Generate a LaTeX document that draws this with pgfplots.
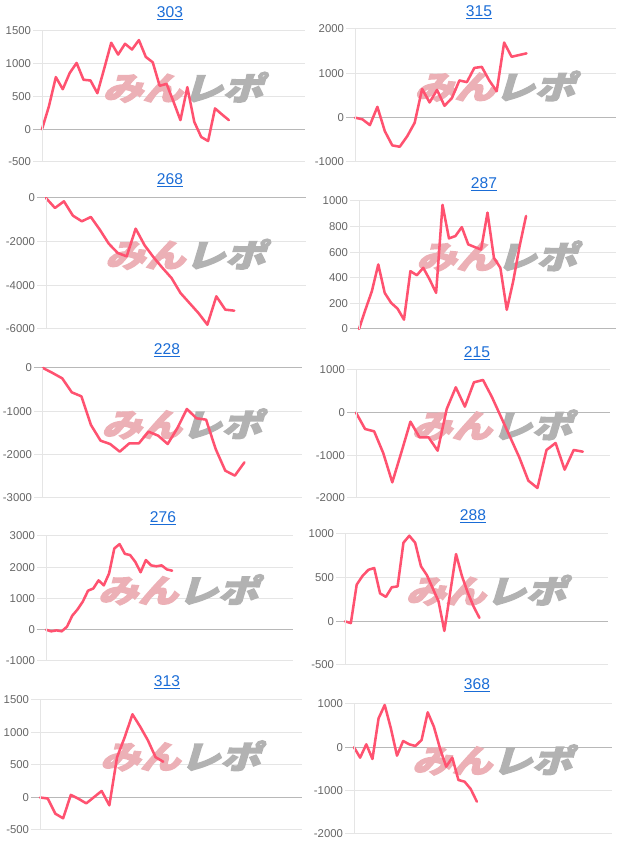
\documentclass[border=0pt]{standalone}
\usepackage{pgfplots}
\pgfplotsset{compat=1.18}
\usepackage{fontspec}
\setmainfont{Liberation Sans}
\newfontfamily\jp{Noto Sans CJK JP}[FakeBold=4]
\definecolor{lineC}{RGB}{255,82,112}
\definecolor{titleC}{RGB}{26,108,214}
\definecolor{tickC}{RGB}{102,102,102}
\definecolor{wmPink}{RGB}{236,176,182}
\definecolor{wmGray}{RGB}{178,178,178}
\pgfplotsset{
  panel/.style={
    scale only axis, anchor=south west,
    xmin=0, xtick=\empty,
    axis line style={draw=none},
    ymajorgrids, major grid style={black!10, line width=0.75pt},
    ytick pos=left,
    ytick style={black!10, line width=0.75pt},
    tick align=outside, major tick length=6.75pt,
    scaled y ticks=false,
    yticklabel style={font=\fontsize{8.5}{10}\selectfont, text=tickC, xshift=2pt, /pgf/number format/1000 sep={}, /pgf/number format/assume math mode=true},
    clip=false,
    extra y ticks={0}, extra y tick labels={},
    extra y tick style={major grid style={black!28, line width=0.75pt}, ytick style={black!28, line width=0.75pt}},
    extra description/.code={\draw[black!10, line width=0.75pt] (0,0) -- (0,1);},
  },
  pline/.style={color=lineC, line width=1.9pt, line join=round, line cap=round, no markers},
}
\tikzset{wmnode/.style={xslant=0.3, xscale=1.25, inner sep=0pt}}
\newcommand{\wm}{\node[wmnode] at (rel axis cs:0.55,0.57) {\jp\bfseries\fontsize{24}{24}\selectfont\textcolor{wmPink}{みん}\textcolor{wmGray}{レポ}};}
\newcommand{\ttl}[3]{\node[font=\fontsize{11.7}{14}\selectfont, text=titleC, inner sep=0pt] at (#1,#2) {\underline{#3}};}
\begin{document}
\begin{tikzpicture}[x=0.75pt, y=0.75pt]
\useasboundingbox (0,0) rectangle (623,841);
% 303
\begin{axis}[panel, at={(42*0.75pt,679*0.75pt)}, width=197.25pt, height=98.25pt, xmax=38, ymin=-500, ymax=1500, ytick={-500,0,500,1000,1500}]
\wm
\addplot[pline] table[row sep=\\, header=false, x expr=\coordindex, y index=0] {0\\350\\796\\611\\858\\1012\\755\\745\\550\\930\\1320\\1140\\1305\\1217\\1361\\1104\\1022\\663\\693\\421\\139\\642\\113\\-118\\-180\\318\\226\\139\\};
\end{axis}
% 315
\begin{axis}[panel, at={(355*0.75pt,679*0.75pt)}, width=195.75pt, height=99.75pt, xmax=35, ymin=-1000, ymax=2000, ytick={-1000,0,1000,2000}]
\wm
\addplot[pline] table[row sep=\\, header=false, x expr=\coordindex, y index=0] {0\\-38\\-168\\244\\-305\\-626\\-656\\-420\\-115\\649\\343\\626\\267\\443\\839\\801\\1122\\1145\\839\\595\\1694\\1373\\1412\\1450\\};
\end{axis}
% 268
\begin{axis}[panel, at={(46*0.75pt,512*0.75pt)}, width=195pt, height=98.25pt, xmax=29, ymin=-6000, ymax=0, ytick={-6000,-4000,-2000,0}]
\wm
\addplot[pline] table[row sep=\\, header=false, x expr=\coordindex, y index=0] {0\\-458\\-153\\-809\\-1069\\-870\\-1450\\-2092\\-2520\\-2672\\-1405\\-2168\\-2718\\-3207\\-3665\\-4352\\-4810\\-5268\\-5803\\-4505\\-5115\\-5161\\};
\end{axis}
% 287
\begin{axis}[panel, at={(359*0.75pt,512*0.75pt)}, width=192.75pt, height=96pt, xmax=40, ymin=0, ymax=1000, ytick={0,200,400,600,800,1000}]
\wm
\addplot[pline] table[row sep=\\, header=false, x expr=\coordindex, y index=0] {0\\151\\295\\504\\282\\204\\159\\73\\452\\420\\478\\386\\282\\970\\708\\726\\796\\661\\640\\621\\909\\556\\478\\150\\373\\648\\883\\};
\end{axis}
% 228
\begin{axis}[panel, at={(43*0.75pt,343*0.75pt)}, width=194.25pt, height=97.5pt, xmax=27, ymin=-3000, ymax=0, ytick={-3000,-2000,-1000,0}]
\wm
\addplot[pline] table[row sep=\\, header=false, x expr=\coordindex, y index=0] {0\\-115\\-238\\-561\\-654\\-1315\\-1677\\-1754\\-1931\\-1738\\-1738\\-1469\\-1561\\-1754\\-1392\\-946\\-1161\\-1192\\-1869\\-2369\\-2484\\-2177\\};
\end{axis}
% 215
\begin{axis}[panel, at={(356*0.75pt,343*0.75pt)}, width=190.5pt, height=96pt, xmax=28, ymin=-2000, ymax=1000, ytick={-2000,-1000,0,1000}]
\wm
\addplot[pline] table[row sep=\\, header=false, x expr=\coordindex, y index=0] {0\\-383\\-438\\-945\\-1633\\-930\\-211\\-578\\-578\\-891\\86\\594\\141\\711\\766\\359\\-109\\-578\\-1047\\-1594\\-1766\\-875\\-711\\-1336\\-875\\-914\\};
\end{axis}
% 276
\begin{axis}[panel, at={(46*0.75pt,180*0.75pt)}, width=185.25pt, height=93.75pt, xmax=47, ymin=-1000, ymax=3000, ytick={-1000,0,1000,2000,3000}]
\wm
\addplot[pline] table[row sep=\\, header=false, x expr=\coordindex, y index=0] {0\\-50\\-20\\-50\\100\\450\\650\\900\\1250\\1320\\1580\\1420\\1800\\2600\\2740\\2430\\2390\\2170\\1840\\2230\\2060\\2030\\2060\\1930\\1890\\};
\end{axis}
% 288
\begin{axis}[panel, at={(345*0.75pt,176*0.75pt)}, width=197.25pt, height=98.25pt, xmax=45, ymin=-500, ymax=1000, ytick={-500,0,500,1000}]
\wm
\addplot[pline] table[row sep=\\, header=false, x expr=\coordindex, y index=0] {0\\-20\\420\\520\\590\\610\\320\\280\\390\\400\\900\\980\\900\\630\\530\\380\\230\\-110\\330\\770\\520\\330\\170\\40\\};
\end{axis}
% 313
\begin{axis}[panel, at={(40*0.75pt,11*0.75pt)}, width=196.5pt, height=97.5pt, xmax=34, ymin=-500, ymax=1500, ytick={-500,0,500,1000,1500}]
\wm
\addplot[pline] table[row sep=\\, header=false, x expr=\coordindex, y index=0] {0\\-15\\-250\\-320\\40\\-20\\-90\\5\\100\\-120\\620\\930\\1280\\1090\\880\\620\\550\\};
\end{axis}
% 368
\begin{axis}[panel, at={(354*0.75pt,7*0.75pt)}, width=193.5pt, height=97.5pt, xmax=42, ymin=-2000, ymax=1000, ytick={-2000,-1000,0,1000}]
\wm
\addplot[pline] table[row sep=\\, header=false, x expr=\coordindex, y index=0] {0\\-238\\69\\-269\\669\\977\\438\\-192\\146\\69\\31\\169\\808\\477\\-23\\-446\\-238\\-754\\-792\\-962\\-1254\\};
\end{axis}
\ttl{170}{828}{303}
\ttl{479}{829}{315}
\ttl{170}{661}{268}
\ttl{484}{657}{287}
\ttl{167}{491}{228}
\ttl{477}{488}{215}
\ttl{163}{323}{276}
\ttl{473}{325}{288}
\ttl{167}{159}{313}
\ttl{477}{156}{368}
\end{tikzpicture}
\end{document}
